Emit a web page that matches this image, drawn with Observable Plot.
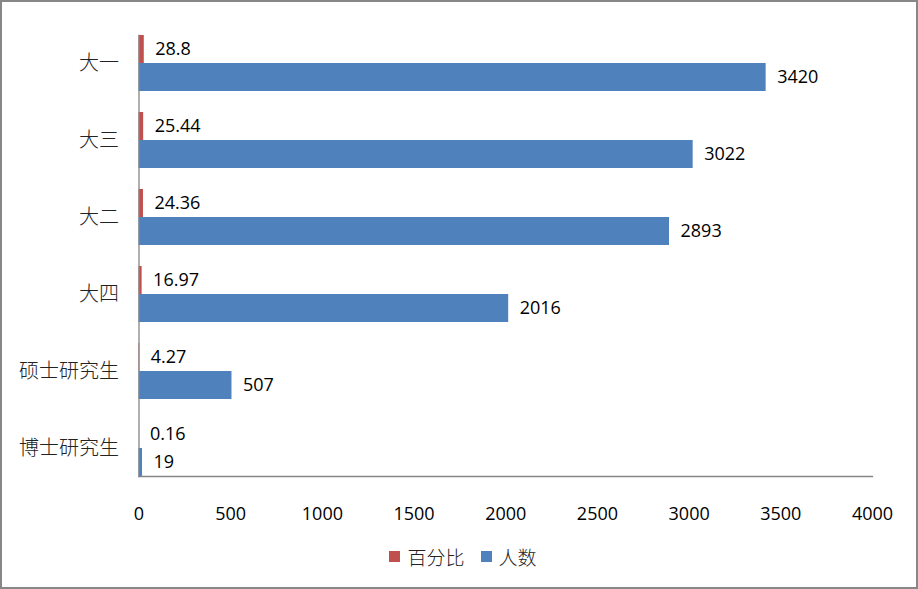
<!DOCTYPE html>
<html><head><meta charset="utf-8">
<script src="https://cdn.jsdelivr.net/npm/d3@7"></script>
<script src="https://cdn.jsdelivr.net/npm/@observablehq/plot@0.6"></script>
<style>
body{margin:0;background:#fff;}
#chart{box-sizing:border-box;width:918px;height:589px;border:2px solid #878787;position:relative;overflow:hidden;background:#fff;}
#chart svg{display:block;}
#legend{display:flex;justify-content:center;align-items:center;height:48px;padding-left:8px;font-family:"Noto Sans CJK SC",sans-serif;font-size:19px;font-weight:300;color:#222;}
.item{display:flex;align-items:center;margin:0 8px;}
.sw{width:11px;height:11px;margin-right:7px;display:inline-block;}
</style></head><body><div id="chart"></div>
<script>
const categories = ["大一","大三","大二","大四","硕士研究生","博士研究生"];
const percents = [28.8,25.44,24.36,16.97,4.27,0.16];
const counts = [3420,3022,2893,2016,507,19];
const seriesNames = ["百分比","人数"];
const colors = ["#C0504D","#4F81BD"];
const xTicks = [0,500,1000,1500,2000,2500,3000,3500,4000];

const rows = [];
categories.forEach((c,i)=>{
  rows.push({category:c, series:seriesNames[0], value:percents[i]});
  rows.push({category:c, series:seriesNames[1], value:counts[i]});
});

const plot = Plot.plot({
  width: 914, height: 530,
  marginLeft: 136.5, marginRight: 44, marginTop: 22, marginBottom: 46,
  style: {fontFamily: "'Open Sans', sans-serif", fontSize: "18px", color:"#000", background:"#fff"},
  x: {domain:[0,4000], axis:null},
  y: {domain: seriesNames, axis:null, padding:0},
  fy: {domain: categories, paddingInner: 0.273, paddingOuter: 0.1365, label:null},
  color: {domain: seriesNames, range: colors},
  marks: [
    Plot.barX(rows, {fy:"category", y:"series", x:"value", fill:"series"}),
    Plot.text(rows, {fy:"category", y:"series", x:"value", text: d=>String(d.value), textAnchor:"start", dx:11, fill:"#000", fontSize:18}),
    Plot.frame({anchor:"left", facet:"super", stroke:"#868686", strokeWidth:1.3}),
    Plot.frame({anchor:"bottom", facet:"super", stroke:"#868686", strokeWidth:1.3}),
    Plot.axisX({ticks: xTicks, tickFormat: d => String(d), tickSize:0, tickPadding:30.5, fontSize:18, label:null, fill:"#000"}),
    Plot.axisFy({anchor:"left", tickSize:0, tickPadding:20, label:null, fontSize:20, fontWeight:300, fontFamily:"'Noto Sans CJK SC', sans-serif", fill:"#222"})
  ]
});
const chart = document.getElementById("chart");
chart.appendChild(plot);
const legend = document.createElement("div");
legend.id = "legend";
seriesNames.forEach((s,i)=>{
  const it = document.createElement("span"); it.className="item";
  const sw = document.createElement("span"); sw.className="sw"; sw.style.background = colors[i];
  const t = document.createElement("span"); t.textContent = s;
  it.appendChild(sw); it.appendChild(t); legend.appendChild(it);
});
chart.appendChild(legend);
</script></body></html>
